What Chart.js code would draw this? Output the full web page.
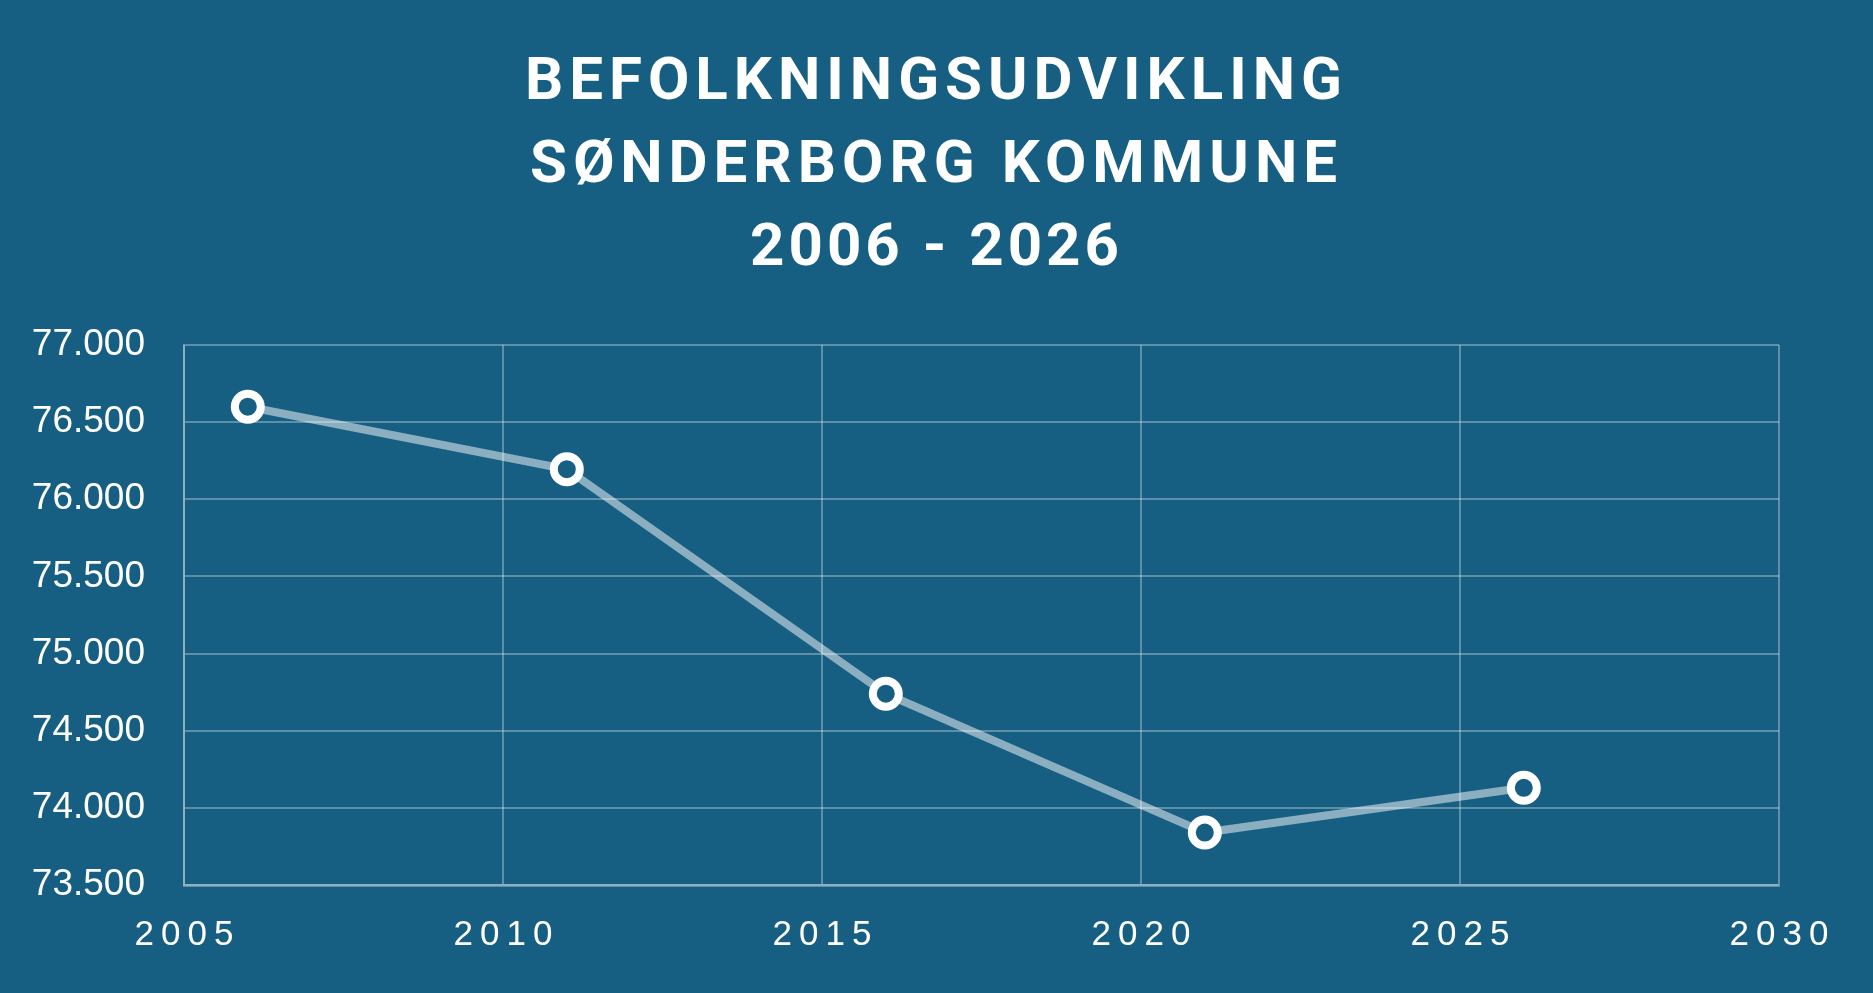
<!DOCTYPE html>
<html lang="da">
<head>
<meta charset="UTF-8">
<title>Befolkningsudvikling Sønderborg Kommune</title>
<script src="https://cdn.jsdelivr.net/npm/chart.js"></script>
<style>
  html, body { margin: 0; padding: 0; background: #175f82; overflow: hidden; }
  #wrap { position: relative; width: 1873px; height: 993px; }
  #title {
    position: absolute; left: 0; right: 0; top: 37px;
    text-align: center; color: #fff;
    font-family: Roboto, "Liberation Sans", sans-serif; font-weight: 700;
    font-size: 60px; line-height: 83px; letter-spacing: 6px;
  }
  #title .yrs { letter-spacing: 4px; }
  canvas { position: absolute; left: 0; top: 0; }
</style>
</head>
<body>
<div id="wrap">
  <canvas id="chart" width="1873" height="993"></canvas>
  <div id="title">BEFOLKNINGSUDVIKLING<br>SØNDERBORG KOMMUNE<br><span class="yrs">2006 - 2026</span></div>
</div>

<script>
// aflæste værdier
const years = [2006, 2011, 2016, 2021, 2026];
const population = [76600, 76195, 74740, 73840, 74130];
const xTicks = [2005, 2010, 2015, 2020, 2025, 2030];
const yTicks = [73500, 74000, 74500, 75000, 75500, 76000, 76500, 77000];

const bg = '#175f82';
const gridColor = 'rgba(255,255,255,0.3)';

function dkNumber(v) {
    return String(v).replace(/\B(?=(\d{3})+(?!\d))/g, '.');
}

// mellemrum mellem tegnene på x-aksen
const spacedLabels = {
    id: 'spacedLabels',
    beforeDraw(chart) {
        const sx = chart.scales.x;
        if (sx && !sx._spaced) {
            const orig = sx.drawLabels.bind(sx);
            sx.drawLabels = function (area) {
                const c = this.ctx;
                c.save();
                c.letterSpacing = '7px';
                c.translate(3.5, 0);
                orig(area);
                c.restore();
            };
            sx._spaced = true;
        }
    }
};

const ctx = document.getElementById('chart').getContext('2d');
new Chart(ctx, {
    type: 'line',
    data: {
        datasets: [{
            data: years.map((y, i) => ({ x: y, y: population[i] })),
            borderColor: 'rgba(255,255,255,0.5)',
            borderWidth: 8,
            pointRadius: 13,
            pointHoverRadius: 13,
            pointBorderWidth: 8,
            pointBorderColor: '#ffffff',
            pointBackgroundColor: bg,
            tension: 0
        }]
    },
    options: {
        responsive: false,
        animation: false,
        layout: { padding: { top: 345, right: 94, left: 0, bottom: 0 } },
        plugins: {
            legend: { display: false },
            tooltip: { enabled: false }
        },
        scales: {
            x: {
                type: 'linear',
                min: xTicks[0],
                max: xTicks[xTicks.length - 1],
                afterBuildTicks: s => { s.ticks = xTicks.map(v => ({ value: v })); },
                afterFit: s => { s.height = 108; },
                grid: { color: gridColor, lineWidth: 2, drawTicks: false },
                border: { color: gridColor, width: 3 },
                ticks: {
                    color: '#ffffff',
                    padding: 29,
                    maxRotation: 0,
                    font: { family: '"Liberation Sans", Arial, sans-serif', size: 35 },
                    callback: v => String(v)
                }
            },
            y: {
                min: yTicks[0],
                max: yTicks[yTicks.length - 1],
                afterBuildTicks: s => { s.ticks = yTicks.map(v => ({ value: v })); },
                afterFit: s => { s.width = 184; },
                grid: { color: gridColor, lineWidth: 2, drawTicks: false },
                border: { color: gridColor, width: 2 },
                ticks: {
                    color: '#ffffff',
                    padding: 39,
                    font: { family: '"Liberation Sans", Arial, sans-serif', size: 37 },
                    callback: v => dkNumber(v)
                }
            }
        }
    },
    plugins: [spacedLabels]
});
</script>
</body>
</html>
